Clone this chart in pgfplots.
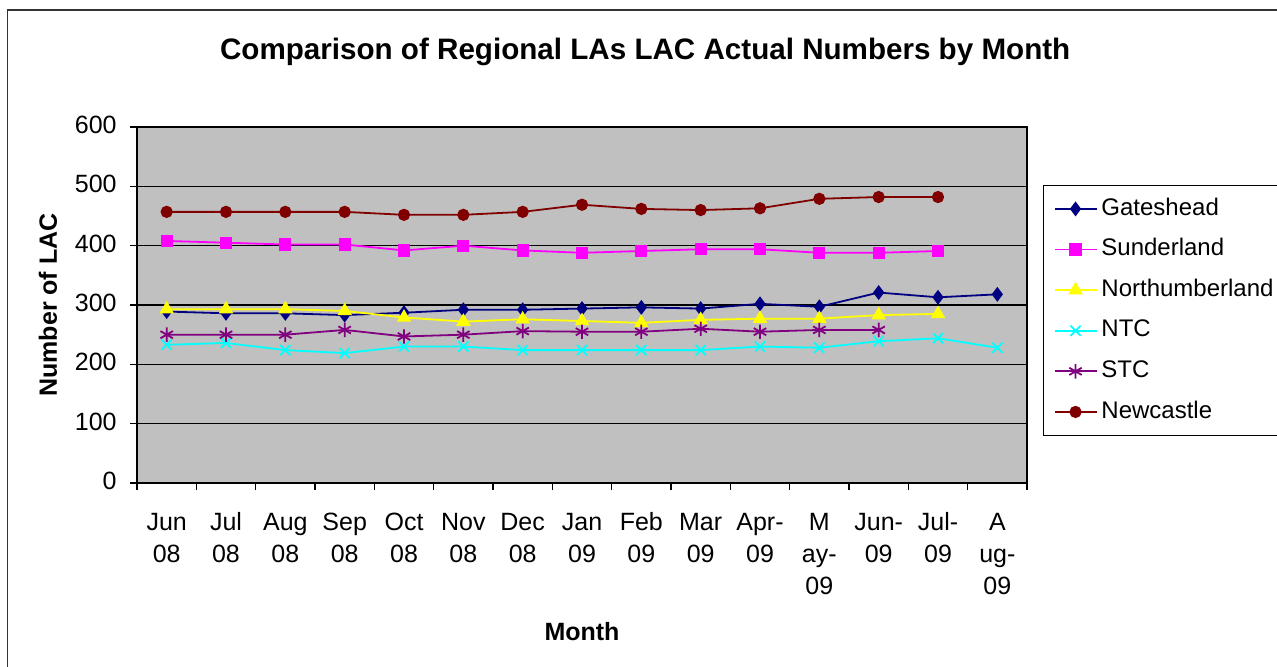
\documentclass[border=0pt]{standalone}
\usepackage{pgfplots}
\pgfplotsset{compat=1.18}
\usepackage{fontspec}
\setmainfont{Liberation Sans}
\definecolor{cGate}{HTML}{000080}
\definecolor{cSund}{HTML}{FF00FF}
\definecolor{cNorth}{HTML}{FFFF00}
\definecolor{cNTC}{HTML}{00FFFF}
\definecolor{cSTC}{HTML}{800080}
\definecolor{cNew}{HTML}{800000}
\definecolor{bggray}{HTML}{C0C0C0}
\begin{document}
\begin{tikzpicture}
\useasboundingbox (-68.5pt,-91.5pt) rectangle (570pt,241.5pt);
\begin{axis}[
  at={(0,0)}, anchor=south west,
  width=445pt, height=178pt, scale only axis,
  xmin=-0.5, xmax=14.5, ymin=0, ymax=600,
  axis background/.style={fill=bggray},
  ytick={0,100,...,600},
  ymajorgrids, grid style={black, line width=0.6pt},
  xtick={0,...,14},
  xticklabels={{Jun\\08},{Jul\\08},{Aug\\08},{Sep\\08},{Oct\\08},{Nov\\08},{Dec\\08},{Jan\\09},{Feb\\09},{Mar\\09},{Apr-\\09},{M\\ay-\\09},{Jun-\\09},{Jul-\\09},{A\\ug-\\09}},
  minor xtick={-0.5,0.5,...,14.5},
  tick align=outside, tick pos=left,
  major tick length=3.5pt, minor tick length=3.5pt,
  major x tick style={draw=none},
  tick style={black, line width=0.6pt},
  axis line style={black, line width=0.6pt},
  every tick label/.append style={font=\fontsize{12.5}{16}\selectfont},
  xticklabel style={align=center, anchor=north, inner sep=0pt, yshift=-8.8pt},
  typeset ticklabels with strut,
  yticklabel style={inner sep=0pt, xshift=-6.5pt},
  /pgf/number format/assume math mode=true,
  title={Comparison of Regional LAs LAC Actual Numbers by Month},
  title style={at={(rel axis cs:0.571,1.157)}, anchor=base, font=\fontsize{14.8}{17}\selectfont\bfseries, inner sep=0pt},
  xlabel={Month},
  xlabel style={at={(axis description cs:0.5,-0.441)}, anchor=base, font=\fontsize{12.5}{15}\selectfont\bfseries, inner sep=0pt},
  ylabel={Number of LAC},
  ylabel style={at={(axis description cs:-0.0899,0.5)}, anchor=base, font=\fontsize{12.5}{15}\selectfont\bfseries, inner sep=0pt},
  legend style={at={(rel axis cs:1.018,0.837)}, anchor=north west, draw=black, line width=0.6pt, fill=white,
    font=\fontsize{12}{14}\selectfont, row sep=9pt, inner xsep=5pt, inner ysep=6pt,
    nodes={text height=8.7pt, text depth=2.6pt, inner ysep=0pt}},
  legend cell align=left,
  legend image code/.code={\draw[mark repeat=2,mark phase=2] plot coordinates {(0pt,0pt) (10.5pt,0pt) (21pt,0pt)};},
  every axis plot/.append style={line width=0.9pt},
]
\addplot[cGate, mark=diamond*, mark size=3pt, mark options={solid, fill=cGate}] coordinates {
(0,289) (1,286) (2,286) (3,283) (4,287) (5,292) (6,292) (7,294) (8,296) (9,294) (10,302) (11,297) (12,321) (13,313) (14,318)};
\addlegendentry{Gateshead}
\addplot[cSund, mark=square*, mark size=2.6pt, mark options={solid, fill=cSund}] coordinates {
(0,408) (1,405) (2,402) (3,402) (4,392) (5,400) (6,392) (7,388) (8,391) (9,394) (10,394) (11,388) (12,388) (13,391)};
\addlegendentry{Sunderland}
\addplot[cNorth, mark=triangle*, mark size=3.3pt, mark options={solid, fill=cNorth}] coordinates {
(0,293) (1,293) (2,293) (3,290) (4,279) (5,272) (6,276) (7,273) (8,270) (9,275) (10,277) (11,277) (12,283) (13,285)};
\addlegendentry{Northumberland}
\addplot[cNTC, mark=x, mark size=3.6pt, mark options={solid, line width=0.9pt}] coordinates {
(0,233) (1,236) (2,224) (3,219) (4,230) (5,230) (6,224) (7,224) (8,224) (9,224) (10,230) (11,228) (12,239) (13,244) (14,228)};
\addlegendentry{NTC}
\addplot[cSTC, mark=asterisk, mark size=3.6pt, mark options={solid, line width=0.9pt}] coordinates {
(0,250) (1,250) (2,250) (3,258) (4,247) (5,250) (6,256) (7,255) (8,255) (9,260) (10,255) (11,258) (12,258)};
\addlegendentry{STC}
\addplot[cNew, mark=*, mark size=2.6pt, mark options={solid, fill=cNew}] coordinates {
(0,457) (1,457) (2,457) (3,457) (4,452) (5,452) (6,457) (7,469) (8,462) (9,460) (10,463) (11,479) (12,482) (13,482)};
\addlegendentry{Newcastle}
\end{axis}
\draw[line width=0.8pt, black!80] (-64.75pt,-100pt) -- (-64.75pt,236.5pt) -- (600pt,236.5pt);
\end{tikzpicture}
\end{document}
